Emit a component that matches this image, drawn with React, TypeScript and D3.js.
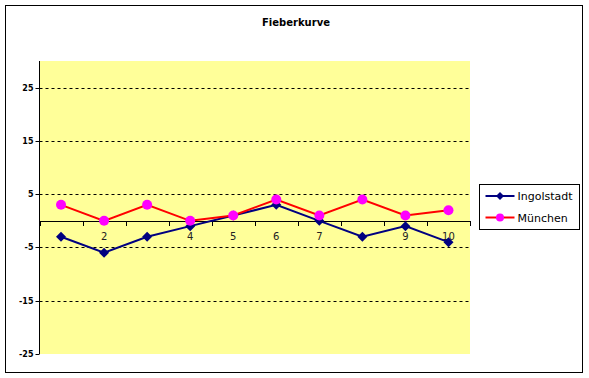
import React from "react";
import * as d3 from "d3";

const categories = [1, 2, 3, 4, 5, 6, 7, 8, 9, 10];
const categoryLabels = ["", "2", "", "4", "5", "6", "7", "", "9", "10"];
const ingolstadt = [-3, -6, -3, -1, 1, 3, 0, -3, -1, -4];
const muenchen = [3, 0, 3, 0, 1, 4, 1, 4, 1, 2];
const yTicks = [-25, -15, -5, 5, 15, 25];
const seriesNames = ["Ingolstadt", "München"];

const W = 589;
const H = 378;
const plot = { left: 39.5, right: 470, top: 61, bottom: 354 };
const font = "'DejaVu Sans', Verdana, sans-serif";

export default function App() {
  const x = d3
    .scaleBand<number>()
    .domain(categories)
    .range([plot.left, plot.right]);
  const y = d3.scaleLinear().domain([-25, 30]).range([plot.bottom, plot.top]);
  const cx = (c: number) => (x(c) as number) + x.bandwidth() / 2;
  const line = d3
    .line<number>()
    .x((_, i) => cx(categories[i]))
    .y((d) => y(d));
  const y0 = y(0);
  const boundaries = d3.range(categories.length + 1).map((i) => plot.left + i * x.bandwidth());

  const diamondPath = (px: number, py: number, r: number) =>
    `M${px},${py - r}L${px + r},${py}L${px},${py + r}L${px - r},${py}Z`;

  const legendX = 479.5;
  const legendY = 184.5;

  return (
    <svg
      width={W}
      height={H}
      style={{ position: "absolute", left: 0, top: 0, display: "block" }}
    >
      <rect x={0} y={0} width={W} height={H} fill="#fff" />
      <rect x={5.5} y={5.5} width={577} height={367} fill="#fff" stroke="#000" strokeWidth={1} />
      <text x={296} y={25.5} textAnchor="middle" fontFamily={font} fontWeight="bold" fontSize={10} fill="#000">
        Fieberkurve
      </text>
      <rect
        x={plot.left}
        y={plot.top}
        width={plot.right - plot.left}
        height={plot.bottom - plot.top}
        fill="#FFFF99"
      />
      {yTicks
        .filter((t) => t !== -25)
        .map((t) => (
          <line
            key={"g" + t}
            x1={plot.left}
            x2={plot.right}
            y1={Math.round(y(t)) + 0.5}
            y2={Math.round(y(t)) + 0.5}
            stroke="#000"
            strokeWidth={1}
            strokeDasharray="3,3"
          />
        ))}
      {/* y axis */}
      <line x1={plot.left} x2={plot.left} y1={plot.top} y2={plot.bottom} stroke="#000" strokeWidth={1} />
      {yTicks.map((t) => (
        <g key={"yt" + t}>
          <line
            x1={plot.left - 4}
            x2={plot.left}
            y1={Math.round(y(t)) + 0.5}
            y2={Math.round(y(t)) + 0.5}
            stroke="#000"
          />
          <text
            x={plot.left - 6}
            y={y(t) + 3}
            textAnchor="end"
            fontFamily={font}
            fontSize={8}
            fontWeight={600}
            fill="#000"
          >
            {t}
          </text>
        </g>
      ))}
      {/* x axis at zero */}
      <line x1={plot.left} x2={plot.right} y1={Math.round(y0) + 0.5} y2={Math.round(y0) + 0.5} stroke="#000" />
      {boundaries.map((b, i) => (
        <line
          key={"xt" + i}
          x1={Math.round(b) + 0.5}
          x2={Math.round(b) + 0.5}
          y1={Math.round(y0)}
          y2={Math.round(y0) + 5}
          stroke="#000"
        />
      ))}
      {categories.map((c, i) => (
        <text
          key={"xl" + c}
          x={cx(c)}
          y={239.5}
          textAnchor="middle"
          fontFamily={font}
          fontSize={10}
          fill="#222"
        >
          {categoryLabels[i]}
        </text>
      ))}
      {/* series */}
      <path d={line(ingolstadt) || ""} fill="none" stroke="#000080" strokeWidth={2} />
      {ingolstadt.map((v, i) => (
        <path key={"di" + i} d={diamondPath(cx(categories[i]), y(v), 5)} fill="#000080" />
      ))}
      <path d={line(muenchen) || ""} fill="none" stroke="#FF0000" strokeWidth={2} />
      {muenchen.map((v, i) => (
        <circle key={"mu" + i} cx={cx(categories[i])} cy={y(v)} r={5} fill="#FF00FF" />
      ))}
      {/* legend */}
      <rect x={legendX} y={legendY} width={100} height={45} fill="#fff" stroke="#000" />
      <line x1={legendX + 6} x2={legendX + 35} y1={legendY + 11.5} y2={legendY + 11.5} stroke="#000080" strokeWidth={2} />
      <path d={diamondPath(legendX + 20.5, legendY + 11.5, 4)} fill="#000080" />
      <text x={legendX + 38} y={legendY + 15.5} fontFamily={font} fontSize={11} fill="#000">
        {seriesNames[0]}
      </text>
      <line x1={legendX + 6} x2={legendX + 35} y1={legendY + 33} y2={legendY + 33} stroke="#FF0000" strokeWidth={2} />
      <circle cx={legendX + 20.5} cy={legendY + 33} r={4} fill="#FF00FF" />
      <text x={legendX + 38} y={legendY + 37} fontFamily={font} fontSize={11} fill="#000">
        {seriesNames[1]}
      </text>
    </svg>
  );
}
